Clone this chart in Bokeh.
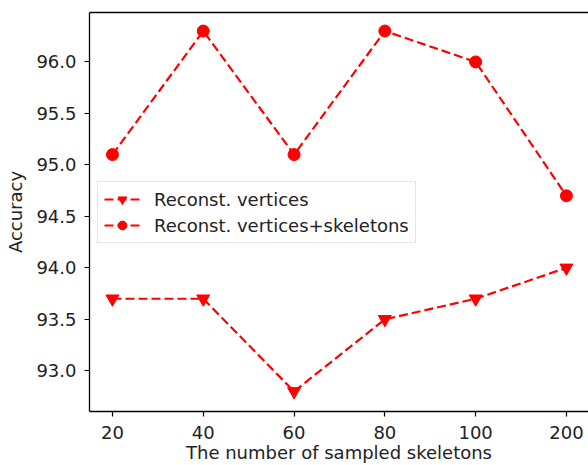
from bokeh.plotting import figure
from bokeh.models import FixedTicker, Range1d, LinearAxis, Legend, LegendItem
from bokeh.embed import file_html
from bokeh.resources import INLINE

categories = ["20", "40", "60", "80", "100", "200"]
vertices = [93.7, 93.7, 92.8, 93.5, 93.7, 94.0]
vertices_skel = [95.1, 96.3, 95.1, 96.3, 96.0, 94.7]
y_ticks = [93.0, 93.5, 94.0, 94.5, 95.0, 95.5, 96.0]

xs = list(range(len(categories)))
RED = "#ff0000"
FONT = "DejaVu Sans"
FS = "18px"

p = figure(width=588, height=465, output_backend="svg", toolbar_location=None,
           x_range=Range1d(-0.253, 5.243), y_range=Range1d(92.605, 96.48),
           min_border_left=89, min_border_right=0, min_border_top=12, min_border_bottom=54)
p.grid.visible = False
p.outline_line_color = None
p.background_fill_color = "white"

l1 = p.line(xs, vertices, line_color=RED, line_width=2.2, line_dash="9 4")
s1 = p.scatter(xs, vertices, marker="inverted_triangle", size=13, fill_color=RED, line_color=RED)
l2 = p.line(xs, vertices_skel, line_color=RED, line_width=2.2, line_dash="9 4")
s2 = p.scatter(xs, vertices_skel, marker="circle", size=12, fill_color=RED, line_color=RED)

for ax in (p.xaxis[0], p.yaxis[0]):
    ax.axis_line_color = "black"
    ax.axis_line_width = 1.3
    ax.major_tick_in = 0
    ax.major_tick_out = 5
    ax.major_tick_line_width = 1.2
    ax.minor_tick_line_color = None
    ax.major_label_text_font = FONT
    ax.major_label_text_font_size = FS
    ax.major_label_text_color = "#222222"
    ax.axis_label_text_font = FONT
    ax.axis_label_text_font_size = FS
    ax.axis_label_text_font_style = "normal"
    ax.axis_label_text_color = "#222222"

p.xaxis.ticker = FixedTicker(ticks=xs)
p.xaxis.major_label_overrides = {i: c for i, c in enumerate(categories)}
p.xaxis.axis_label = "The number of sampled skeletons"
p.xaxis.major_label_standoff = 9
p.xaxis.axis_label_standoff = 0

p.yaxis.ticker = FixedTicker(ticks=y_ticks)
p.yaxis.major_label_overrides = {t: f"{t:.1f}" for t in y_ticks}
p.yaxis.axis_label = "Accuracy"
p.yaxis.major_label_standoff = 8
p.yaxis.axis_label_standoff = 7

top = LinearAxis(axis_line_color="black", axis_line_width=1.3, major_tick_line_color=None,
                 minor_tick_line_color=None, major_label_text_font_size="0px")
top.ticker = FixedTicker(ticks=[])
p.add_layout(top, "above")

legend = Legend(items=[LegendItem(label="Reconst. vertices", renderers=[l1, s1]),
                       LegendItem(label="Reconst. vertices+skeletons", renderers=[l2, s2])],
                location=(8, 168))
legend.glyph_width = 36
legend.glyph_height = 22
legend.label_height = 22
legend.spacing = 4
legend.padding = 6
legend.label_standoff = 14
legend.label_text_font = FONT
legend.label_text_font_size = FS
legend.label_text_color = "#222222"
legend.border_line_color = "#cccccc"
legend.background_fill_alpha = 0.85
legend.margin = 0
p.add_layout(legend, "center")

open("out.html", "w").write(file_html(p, INLINE))
